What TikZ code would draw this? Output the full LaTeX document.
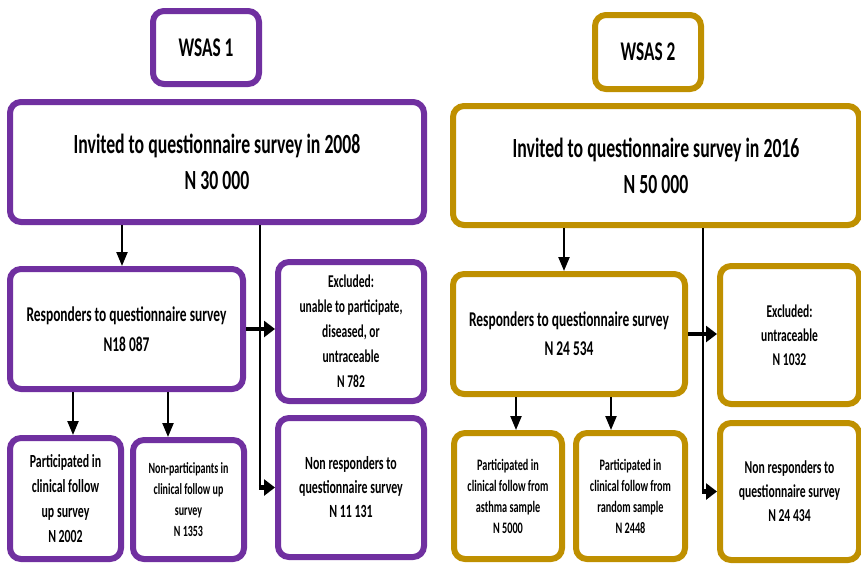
\documentclass[tikz,border=0pt]{standalone}
\usepackage{fontspec}
\setmainfont{Carlito}[FakeStretch=0.64]
\usetikzlibrary{arrows.meta}
\definecolor{wsaspurple}{HTML}{7030A0}
\definecolor{wsasgold}{HTML}{BF9000}
\tikzset{
  flowbox/.style={draw, line width=6pt, rounded corners=11pt, fill=white,
    align=center, inner sep=2pt, font=\bfseries},
  purplebox/.style={flowbox, draw=wsaspurple},
  goldbox/.style={flowbox, draw=wsasgold},
  thinarr/.style={line width=2.2pt, -{Triangle[width=11pt,length=14pt]}},
  thickarr/.style={line width=4.5pt, -{Triangle[width=16pt,length=11pt]}},
  link/.style={line width=2.2pt},
}
\newcommand{\fs}[2]{\fontsize{#1}{#2}\selectfont}
\begin{document}
\begin{tikzpicture}[x=1pt,y=-1pt]
			%%%%% FRAME %%%%%
			\useasboundingbox (0,0) rectangle (861,563);
			\clip (0,0) rectangle (861,563);
			
			%%%%% WSAS 1 %%%%%
			\node[purplebox, minimum width=106pt, minimum height=73pt, font=\bfseries\fs{27}{36}] (w1) at (206,47.5) {WSAS 1};
			\node[purplebox, minimum width=414pt, minimum height=120pt, font=\bfseries\fs{27.7}{36}] (inv1) at (217,162) {Invited to questionnaire survey in 2008\\N 30 000};
			\node[purplebox, minimum width=233pt, minimum height=120pt, font=\bfseries\fs{21}{30}] (resp1) at (126.5,329) {Responders to questionnaire survey\\N18 087};
			\node[purplebox, minimum width=146pt, minimum height=139pt, font=\bfseries\fs{18}{25}] (excl1) at (351,331.5) {Excluded:\\unable to participate,\\diseased, or\\untraceable\\N 782};
			\node[purplebox, minimum width=111pt, minimum height=121pt, font=\bfseries\fs{18.5}{25}] (part1) at (65.5,498.5) {Participated in\\clinical follow\\up survey\\N 2002};
			\node[purplebox, minimum width=111pt, minimum height=119pt, font=\bfseries\fs{15.6}{21}] (nonp1) at (188.5,499.5) {Non-participants in\\clinical follow up\\survey\\N 1353};
			\node[purplebox, minimum width=146pt, minimum height=139pt, font=\bfseries\fs{18.6}{24}] (nonr1) at (351,487.5) {Non responders to\\questionnaire survey\\N 11 131};
			
			\draw[thinarr] (inv1.south -| 122,0) -- (resp1.north -| 122,0);
			\draw[link] (inv1.south -| 260,0) -- (nonr1.west -| 260,0);
			\draw[thickarr] (nonr1.west -| 258.9,0) -- (nonr1.west);
			\draw[thickarr] (resp1.east) -- (resp1.east -| excl1.west);
			\draw[thinarr] (resp1.south -| 73,0) -- (part1.north -| 73,0);
			\draw[thinarr] (resp1.south -| 168,0) -- (nonp1.north -| 168,0);
			
			%%%%% WSAS 2 %%%%%
			\node[goldbox, minimum width=106pt, minimum height=74pt, font=\bfseries\fs{27}{36}] (w2) at (648,52) {WSAS 2};
			\node[goldbox, minimum width=406pt, minimum height=119pt, font=\bfseries\fs{27.7}{36}] (inv2) at (656,165.5) {Invited to questionnaire survey in 2016\\N 50 000};
			\node[goldbox, minimum width=232pt, minimum height=120pt, font=\bfseries\fs{21}{29}] (resp2) at (569,334) {Responders to questionnaire survey\\N 24 534};
			\node[goldbox, minimum width=139pt, minimum height=138pt, font=\bfseries\fs{18}{24}] (excl2) at (789.5,335) {Excluded:\\untraceable\\N 1032};
			\node[goldbox, minimum width=108pt, minimum height=126pt, font=\bfseries\fs{16}{21}] (part2) at (508,496) {Participated in\\clinical follow from\\asthma sample\\N 5000};
			\node[goldbox, minimum width=109pt, minimum height=126pt, font=\bfseries\fs{16}{21}] (part3) at (630.5,496) {Participated in\\clinical follow from\\random sample\\N 2448};
			\node[goldbox, minimum width=139pt, minimum height=137pt, font=\bfseries\fs{18.2}{24}] (nonr2) at (789.5,491.5) {Non responders to\\questionnaire survey\\N 24 434};
			
			\draw[thinarr] (inv2.south -| 564,0) -- (resp2.north -| 564,0);
			\draw[link] (inv2.south -| 703,0) -- (nonr2.west -| 703,0);
			\draw[thickarr] (nonr2.west -| 701.9,0) -- (nonr2.west);
			\draw[thickarr] (resp2.east) -- (resp2.east -| excl2.west);
			\draw[thinarr] (resp2.south -| 516,0) -- (part2.north -| 516,0);
			\draw[thinarr] (resp2.south -| 611,0) -- (part3.north -| 611,0);
			
			%%%%% END %%%%%
\end{tikzpicture}
\end{document}
